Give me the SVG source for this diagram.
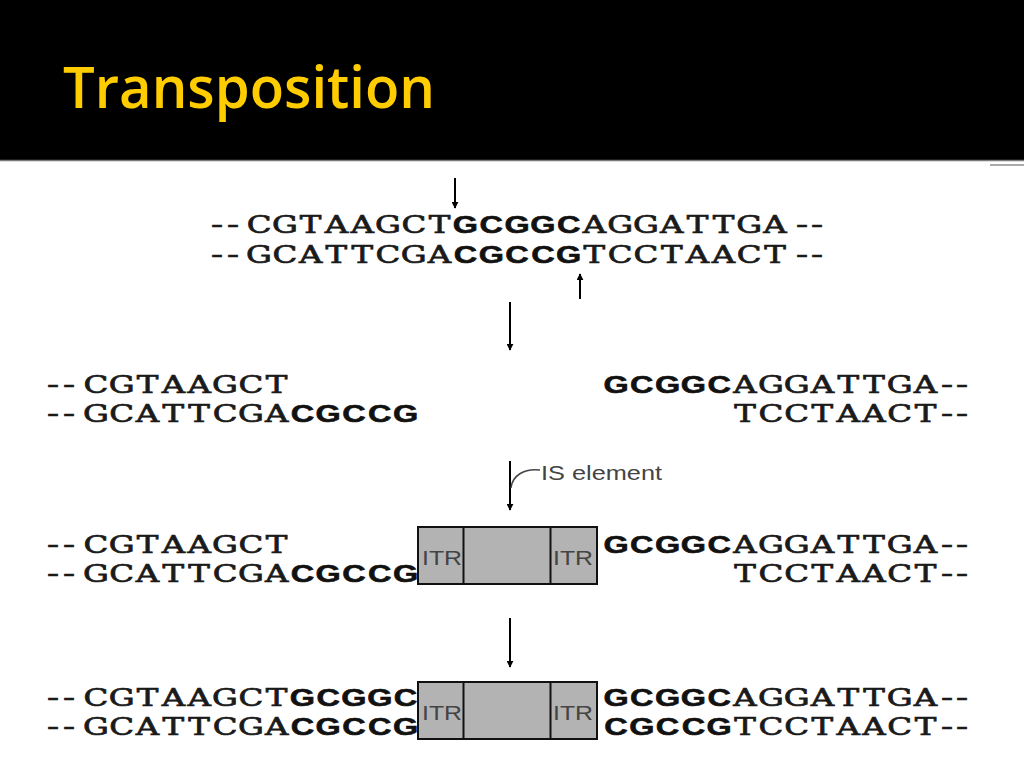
<svg xmlns="http://www.w3.org/2000/svg" width="1024" height="768" viewBox="0 0 1024 768">
<style>
.n{font-family:"DejaVu Serif","Liberation Serif",serif;font-size:24px;fill:#1a1a1a;stroke:#1a1a1a;stroke-width:0.7px;text-anchor:middle}
.d{font-family:"Liberation Mono","Courier New",monospace;font-size:26px;fill:#1a1a1a;stroke:#1a1a1a;stroke-width:0.3px;text-anchor:middle}
.b{font-family:"Liberation Sans",Arial,sans-serif;font-weight:bold;font-size:24px;fill:#111;stroke:#111;stroke-width:0.6px;text-anchor:middle}
.itr{font-family:"Liberation Sans",Arial,sans-serif;font-size:21px;fill:#444}
.box{fill:#b3b3b3;stroke:#111;stroke-width:2}
.div{stroke:#111;stroke-width:2}
.arr{stroke:#000;stroke-width:2;fill:none}
</style>
<defs>
<marker id="ah" viewBox="0 0 10 10" refX="9" refY="5" markerWidth="7" markerHeight="7" markerUnits="userSpaceOnUse" orient="auto">
<path d="M0,0 L10,5 L0,10 z" fill="#000"/>
</marker>
</defs>
<rect x="0" y="0" width="1024" height="768" fill="#fff"/>
<g id="header">
<rect x="0" y="0" width="1024" height="160" fill="#000"/>
<line x1="0" y1="160.5" x2="1024" y2="160.5" stroke="#7a7a7a" stroke-width="1.5"/>
<line x1="990" y1="165" x2="1024" y2="165" stroke="#aaa" stroke-width="2"/>
<text x="63" y="108" font-family="'Open Sans','Noto Sans',sans-serif" font-weight="600" font-size="57" fill="#FFCC00" textLength="372" lengthAdjust="spacingAndGlyphs">Transposition</text>
</g>
<g id="sequences" transform="scale(1.35,1)">
<g id="row-original">
<text y="233"><tspan class="d" x="160.7 172.6">--</tspan><tspan class="n" x="191.9 211.0 230.1 249.2 268.3 287.4 306.5 325.6">CGTAAGCT</tspan><tspan class="b" x="344.7 363.9 383.0 402.1 421.2">GCGGC</tspan><tspan class="n" x="440.3 459.4 478.5 497.6 516.7 535.9 555.0 574.1">AGGATTGA</tspan><tspan class="d" x="594.1 605.2">--</tspan></text>
<text y="263"><tspan class="d" x="160.7 172.6">--</tspan><tspan class="n" x="191.9 211.0 230.1 249.2 268.3 287.4 306.5 325.6">GCATTCGA</tspan><tspan class="b" x="344.7 363.9 383.0 402.1 421.2">CGCCG</tspan><tspan class="n" x="440.3 459.4 478.5 497.6 516.7 535.9 555.0 574.1">TCCTAACT</tspan><tspan class="d" x="594.1 605.2">--</tspan></text>
</g>
<g id="row-cut">
<text y="393"><tspan class="d" x="39.3 51.1">--</tspan><tspan class="n" x="71.1 90.2 109.3 128.4 147.5 166.7 185.8 204.9">CGTAAGCT</tspan></text>
<text y="393"><tspan class="b" x="456.3 475.4 494.5 513.6 532.7">GCGGC</tspan><tspan class="n" x="551.9 571.0 590.1 609.2 628.3 647.4 666.5 685.6">AGGATTGA</tspan><tspan class="d" x="701.5 712.6">--</tspan></text>
<text y="422"><tspan class="d" x="39.3 51.1">--</tspan><tspan class="n" x="71.1 90.2 109.3 128.4 147.5 166.7 185.8 204.9">GCATTCGA</tspan><tspan class="b" x="224.0 243.1 262.2 281.3 300.4">CGCCG</tspan></text>
<text y="422"><tspan class="n" x="551.9 571.0 590.1 609.2 628.3 647.4 666.5 685.6">TCCTAACT</tspan><tspan class="d" x="701.5 712.6">--</tspan></text>
</g>
<g id="row-insert-seq">
<text y="553"><tspan class="d" x="39.3 51.1">--</tspan><tspan class="n" x="71.1 90.2 109.3 128.4 147.5 166.7 185.8 204.9">CGTAAGCT</tspan></text>
<text y="553"><tspan class="b" x="456.3 475.4 494.5 513.6 532.7">GCGGC</tspan><tspan class="n" x="551.9 571.0 590.1 609.2 628.3 647.4 666.5 685.6">AGGATTGA</tspan><tspan class="d" x="701.5 712.6">--</tspan></text>
<text y="582"><tspan class="d" x="39.3 51.1">--</tspan><tspan class="n" x="71.1 90.2 109.3 128.4 147.5 166.7 185.8 204.9">GCATTCGA</tspan><tspan class="b" x="224.0 243.1 262.2 281.3 300.4">CGCCG</tspan></text>
<text y="582"><tspan class="n" x="551.9 571.0 590.1 609.2 628.3 647.4 666.5 685.6">TCCTAACT</tspan><tspan class="d" x="701.5 712.6">--</tspan></text>
</g>
<g id="row-final-seq">
<text y="706"><tspan class="d" x="39.3 51.1">--</tspan><tspan class="n" x="71.1 90.2 109.3 128.4 147.5 166.7 185.8 204.9">CGTAAGCT</tspan><tspan class="b" x="224.0 243.1 262.2 281.3 300.4">GCGGC</tspan></text>
<text y="706"><tspan class="b" x="456.3 475.4 494.5 513.6 532.7">GCGGC</tspan><tspan class="n" x="551.9 571.0 590.1 609.2 628.3 647.4 666.5 685.6">AGGATTGA</tspan><tspan class="d" x="701.5 712.6">--</tspan></text>
<text y="735"><tspan class="d" x="39.3 51.1">--</tspan><tspan class="n" x="71.1 90.2 109.3 128.4 147.5 166.7 185.8 204.9">GCATTCGA</tspan><tspan class="b" x="224.0 243.1 262.2 281.3 300.4">CGCCG</tspan></text>
<text y="735"><tspan class="b" x="456.3 475.4 494.5 513.6 532.7">CGCCG</tspan><tspan class="n" x="551.9 571.0 590.1 609.2 628.3 647.4 666.5 685.6">TCCTAACT</tspan><tspan class="d" x="701.5 712.6">--</tspan></text>
</g>
</g>
<g id="is-element-inserted">
<rect class="box" x="418" y="527" width="179" height="57"/>
<line class="div" x1="463.5" y1="527" x2="463.5" y2="584"/>
<line class="div" x1="550.5" y1="527" x2="550.5" y2="584"/>
<text class="itr" x="422" y="565" textLength="40" lengthAdjust="spacingAndGlyphs">ITR</text>
<text class="itr" x="553" y="565" textLength="40" lengthAdjust="spacingAndGlyphs">ITR</text>
</g>
<g id="is-element-final">
<rect class="box" x="418" y="682" width="179" height="57"/>
<line class="div" x1="463.5" y1="682" x2="463.5" y2="739"/>
<line class="div" x1="550.5" y1="682" x2="550.5" y2="739"/>
<text class="itr" x="422" y="720" textLength="40" lengthAdjust="spacingAndGlyphs">ITR</text>
<text class="itr" x="553" y="720" textLength="40" lengthAdjust="spacingAndGlyphs">ITR</text>
</g>
<g id="is-label">
<text x="541" y="480" font-family="'Liberation Sans',Arial,sans-serif" font-size="21" fill="#444" textLength="121" lengthAdjust="spacingAndGlyphs">IS element</text>
</g>
<g id="connectors">
<line class="arr" x1="455" y1="178" x2="455" y2="208" marker-end="url(#ah)"/>
<line class="arr" x1="580" y1="299" x2="580" y2="274" marker-end="url(#ah)"/>
<line class="arr" x1="510" y1="302" x2="510" y2="350" marker-end="url(#ah)"/>
<line class="arr" x1="510" y1="461" x2="510" y2="510" marker-end="url(#ah)"/>
<path d="M511,488 C512,476 524,468 540,470" stroke="#444" stroke-width="1.5" fill="none"/>
<line class="arr" x1="510" y1="618" x2="510" y2="667" marker-end="url(#ah)"/>
</g>
</svg>
